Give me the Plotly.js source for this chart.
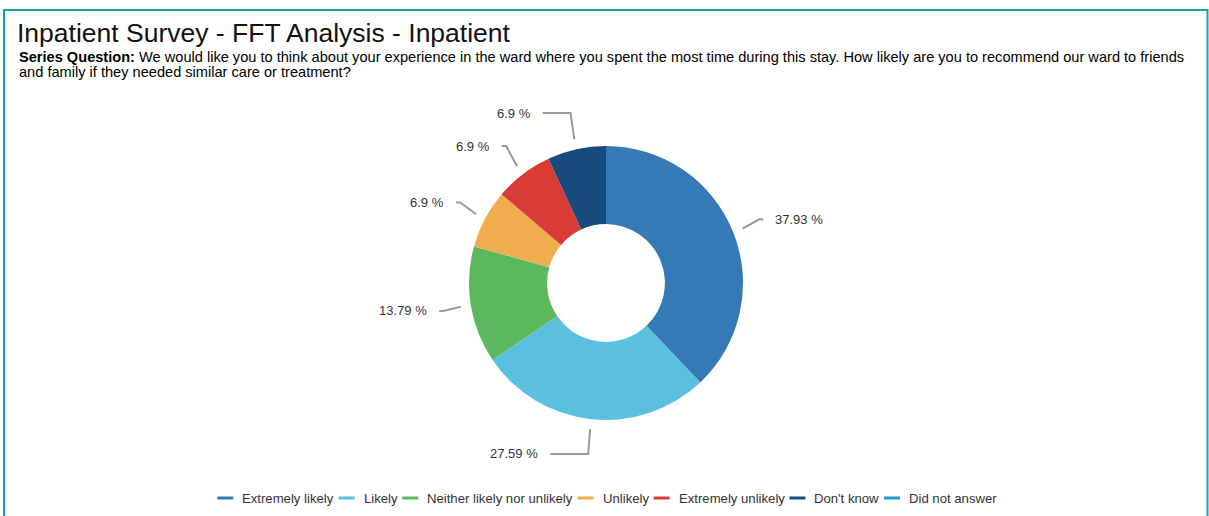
<!DOCTYPE html>
<html>
<head>
<meta charset="utf-8">
<script src="https://cdn.plot.ly/plotly-3.0.1.min.js"></script>
<style>html,body{margin:0;padding:0;background:#fff;}#chart{width:1209px;height:516px;}</style>
</head>
<body>
<div id="chart"></div>
<script>
// ---- data ----
const categories = ['Extremely likely', 'Likely', 'Neither likely nor unlikely', 'Unlikely', 'Extremely unlikely', "Don't know", 'Did not answer'];
const values = [37.93, 27.59, 13.79, 6.9, 6.9, 6.9, 0];
const valueLabels = ['37.93 %', '27.59 %', '13.79 %', '6.9 %', '6.9 %', '6.9 %', '0 %'];
const colors = ['#337ab7', '#5bc0de', '#5cb85c', '#f0ad4e', '#d93b37', '#174b7c', '#1f9bd6'];
const titleText = 'Inpatient Survey - FFT Analysis - Inpatient';
const subtitleLine1 = '<b>Series Question:</b> We would like you to think about your experience in the ward where you spent the most time during this stay. How likely are you to recommend our ward to friends';
const subtitleLine2 = 'and family if they needed similar care or treatment?';

// ---- layout constants ----
const W = 1209, H = 516;
const CX = 606, CY = 283, R = 137;
const FONT = 'Liberation Sans, Arial, sans-serif';
const px = x => x / W;
const py = y => 1 - y / H;

const shapes = [];
const annotations = [];

// border frame
shapes.push({type: 'rect', xref: 'paper', yref: 'paper', x0: px(4), x1: px(1207.5), y0: -0.2, y1: py(10),
  line: {color: '#14a3ad', width: 2}, fillcolor: 'rgba(0,0,0,0)', layer: 'above'});

// subtitle
annotations.push({xref: 'paper', yref: 'paper', x: px(17), y: py(57), xanchor: 'left', yanchor: 'middle',
  text: subtitleLine1, showarrow: false, font: {family: FONT, size: 14.6, color: '#000'}});
annotations.push({xref: 'paper', yref: 'paper', x: px(17), y: py(72), xanchor: 'left', yanchor: 'middle',
  text: subtitleLine2, showarrow: false, font: {family: FONT, size: 14.6, color: '#000'}});

// data labels with connectors
const total = values.reduce((a, b) => a + b, 0);
let cum = 0;
const labs = [];
values.forEach((v, i) => {
  const mid = (cum + v / 2) / total * 2 * Math.PI;
  cum += v;
  if (v <= 0) return;
  const s = Math.sin(mid), c = Math.cos(mid);
  labs.push({i, s, c, side: s >= 0 ? 1 : -1, ly: CY - (R + 35) * c});
});
// simple overlap avoidance per side (push upward)
[1, -1].forEach(side => {
  const group = labs.filter(l => l.side === side).sort((a, b) => b.ly - a.ly);
  for (let k = 1; k < group.length; k++) {
    if (group[k - 1].ly - group[k].ly < 33) group[k].ly = group[k - 1].ly - 33;
  }
});
labs.forEach(l => {
  const {i, s, c, side, ly} = l;
  const S = [CX + (R + 10) * s, CY - (R + 10) * c];
  const B = [CX + (R + 28) * s, ly];
  const h = 4 + 38 * Math.pow(Math.abs(c), 20);
  const E = [B[0] + side * h, ly];
  shapes.push({type: 'path', xref: 'paper', yref: 'paper',
    path: `M${px(S[0])},${py(S[1])} L${px(B[0])},${py(B[1])} L${px(E[0])},${py(E[1])}`,
    line: {color: '#999', width: 2}});
  annotations.push({xref: 'paper', yref: 'paper', x: px(E[0] + side * 10), y: py(ly),
    xanchor: side > 0 ? 'left' : 'right', yanchor: 'middle', showarrow: false,
    text: valueLabels[i], font: {family: FONT, size: 13, color: '#333'}});
});

// legend (line symbols)
const LFS = 13.15;
const ctx = document.createElement('canvas').getContext('2d');
ctx.font = LFS + 'px "Liberation Sans"';
const widths = categories.map(t => ctx.measureText(t).width);
const SYM = 16, GAP = 7, ITEMGAP = 7, LY = 498;
const totalW = widths.reduce((a, w) => a + SYM + GAP + w, 0) + ITEMGAP * (categories.length - 1);
let lx = CX - totalW / 2;
categories.forEach((t, i) => {
  shapes.push({type: 'line', xref: 'paper', yref: 'paper', x0: px(lx), x1: px(lx + SYM), y0: py(LY), y1: py(LY),
    line: {color: colors[i], width: 3}});
  annotations.push({xref: 'paper', yref: 'paper', x: px(lx + SYM + GAP), y: py(LY), xanchor: 'left', yanchor: 'middle',
    text: t, showarrow: false, font: {family: FONT, size: LFS, color: '#333'}});
  lx += SYM + GAP + widths[i] + ITEMGAP;
});

const trace = {
  type: 'pie',
  labels: categories,
  values: values,
  sort: false,
  direction: 'clockwise',
  rotation: 0,
  hole: 0.43,
  textinfo: 'none',
  marker: {colors: colors, line: {width: 0}},
  domain: {x: [px(CX - R), px(CX + R)], y: [py(CY + R), py(CY - R)]},
  showlegend: false
};

const layout = {
  width: W, height: H,
  margin: {l: 0, r: 0, t: 0, b: 0},
  paper_bgcolor: '#fff',
  showlegend: false,
  title: {text: titleText, x: px(17), xref: 'paper', xanchor: 'left', y: py(33), yref: 'container', yanchor: 'middle',
    font: {family: FONT, size: 26.5, color: '#111'}},
  shapes: shapes,
  annotations: annotations
};

Plotly.newPlot('chart', [trace], layout, {displayModeBar: false, staticPlot: true});
</script>
</body>
</html>
